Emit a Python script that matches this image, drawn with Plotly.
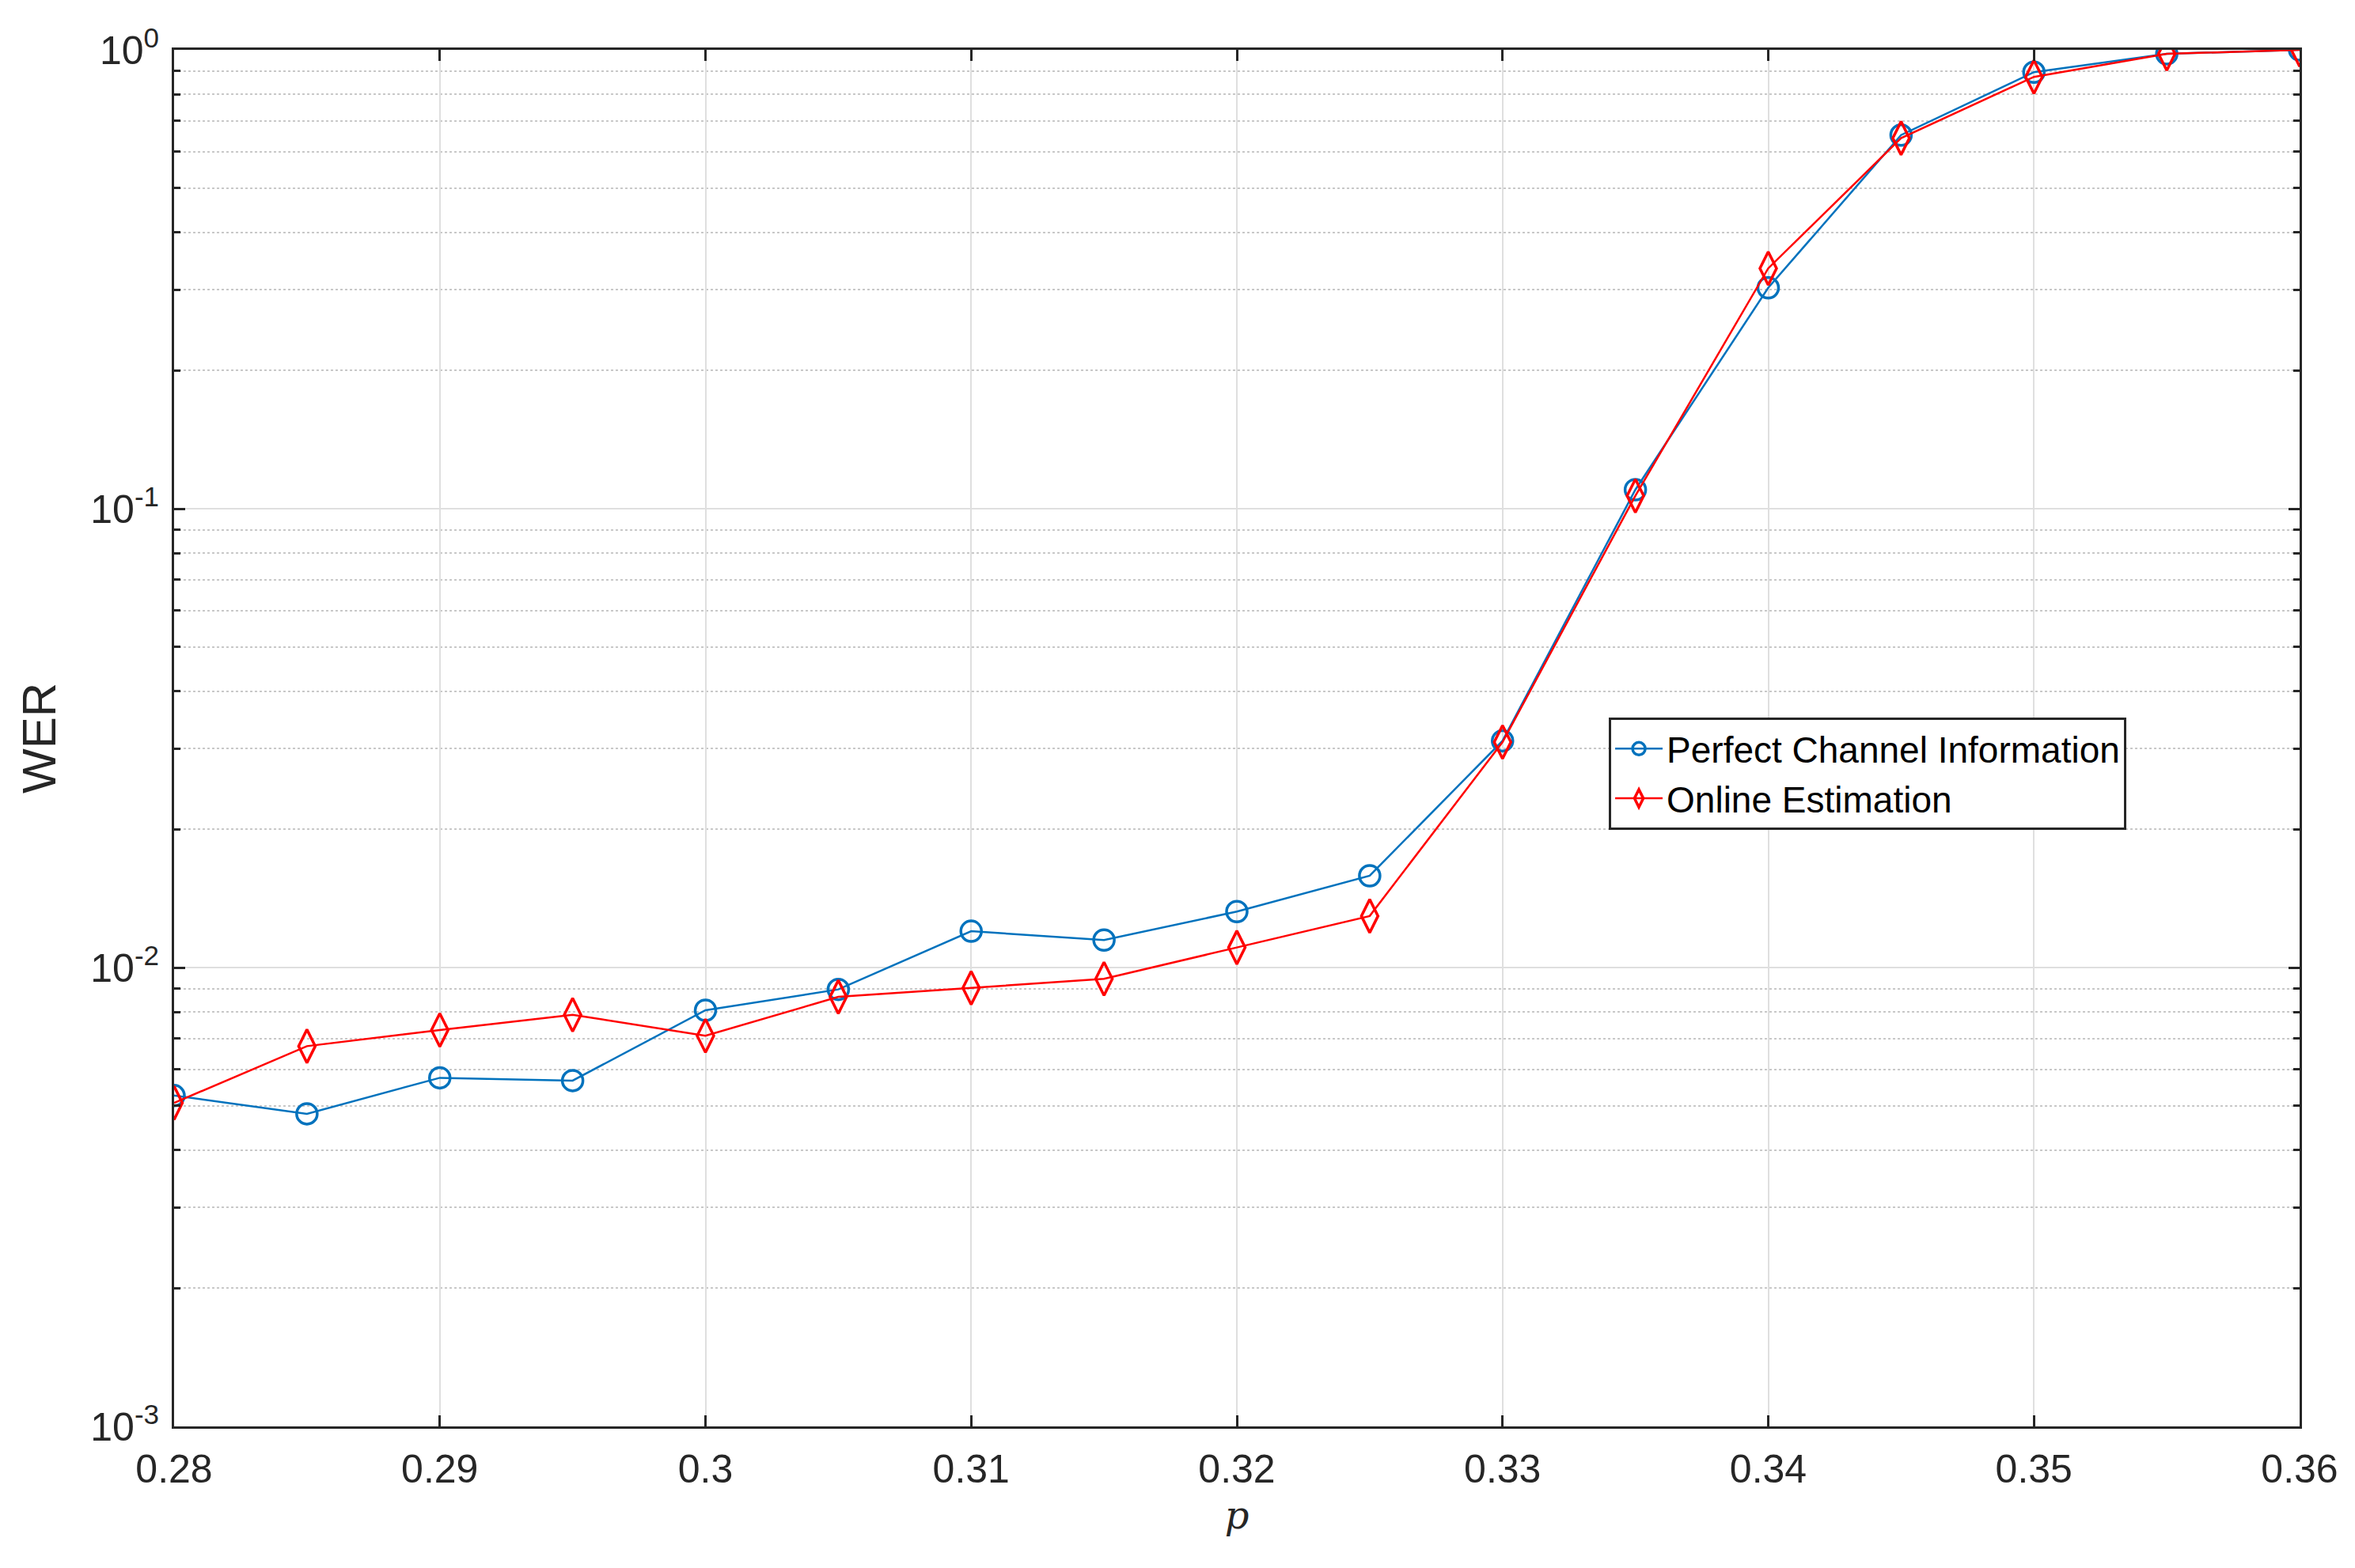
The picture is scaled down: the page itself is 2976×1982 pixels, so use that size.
import plotly.graph_objects as go

p = [0.28,0.285,0.29,0.295,0.30,0.305,0.31,0.315,0.32,0.325,0.33,0.335,0.34,0.345,0.35,0.355,0.36]
wer_perfect = [5.26e-3,4.8e-3,5.75e-3,5.67e-3,8.07e-3,8.96e-3,0.0120,0.01148,0.01324,0.01585,0.0312,0.110,0.303,0.652,0.894,0.98,1.0]
wer_online = [5.07e-3,6.74e-3,7.31e-3,7.89e-3,7.10e-3,8.63e-3,9.03e-3,9.45e-3,0.01106,0.01295,0.031,0.1067,0.334,0.642,0.873,0.98,1.0]
x_ticks = [0.28,0.29,0.30,0.31,0.32,0.33,0.34,0.35,0.36]
x_labels = ["0.28","0.29","0.3","0.31","0.32","0.33","0.34","0.35","0.36"]
y_ticks = [1e-3,1e-2,1e-1,1]
y_labels = ["10<sup>-3</sup>","10<sup>-2</sup>","10<sup>-1</sup>","10<sup>0</sup>"]

fig = go.Figure()
fig.add_trace(go.Scatter(x=p, y=wer_perfect, mode="lines+markers", name="Perfect Channel Information",
    line=dict(color="#0072BD", width=2.5),
    marker=dict(symbol="circle-open", size=26, color="#0072BD", line=dict(width=3.5, color="#0072BD"))))
fig.add_trace(go.Scatter(x=p, y=wer_online, mode="lines+markers", name="Online Estimation",
    line=dict(color="#FF0000", width=2.5),
    marker=dict(symbol="diamond-tall-open", size=30, color="#FF0000", line=dict(width=3.5, color="#FF0000"))))

font = dict(family="Liberation Sans, Arial", size=50, color="#262626")
fig.update_layout(
    width=2976, height=1982, paper_bgcolor="white", plot_bgcolor="white",
    margin=dict(l=212, r=78, t=55, b=187), font=font,
    legend=dict(x=0.675, y=0.515, xanchor="left", yanchor="top", bgcolor="white",
                bordercolor="#262626", borderwidth=3, itemwidth=60,
                font=dict(size=46, color="black")),
    xaxis=dict(range=[0.28,0.36], tickvals=x_ticks, ticktext=x_labels,
               showgrid=True, gridcolor="#DFDFDF", gridwidth=2,
               showline=True, linecolor="#262626", linewidth=3, mirror="ticks",
               ticks="inside", ticklen=14, tickwidth=3, tickcolor="#262626",
               ticklabelstandoff=8,
               title=dict(text="<i>p</i>", font=dict(family="DejaVu Serif", size=48), standoff=15), zeroline=False),
    yaxis=dict(type="log", range=[-3,0], tickvals=y_ticks, ticktext=y_labels,
               showgrid=True, gridcolor="#DFDFDF", gridwidth=2,
               showline=True, linecolor="#262626", linewidth=3, mirror="ticks",
               ticks="inside", ticklen=14, tickwidth=3, tickcolor="#262626",
               ticklabelstandoff=6,
               minor=dict(showgrid=True, gridcolor="#C8C8C8", griddash="dot", gridwidth=2,
                          ticks="inside", ticklen=8, tickcolor="#262626", dtick="D1"),
               title=dict(text="WER", standoff=25), zeroline=False),
)
fig.write_html("out.html")
